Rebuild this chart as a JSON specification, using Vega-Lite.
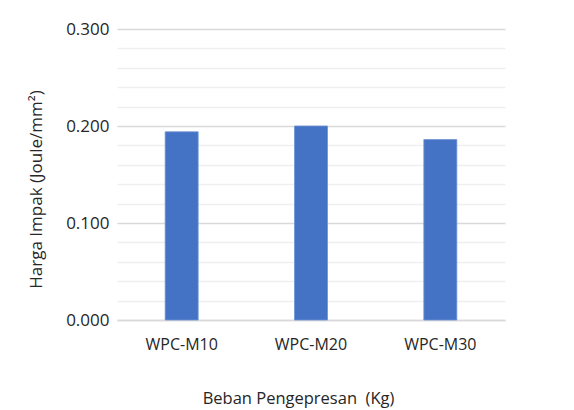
{
  "$schema": "https://vega.github.io/schema/vega-lite/v6.json",
  "autosize": "none",
  "width": 388,
  "height": 291,
  "padding": {"left": 117, "top": 29, "right": 69, "bottom": 90},
  "background": "white",
  "config": {
    "view": {"stroke": null},
    "font": "Open Sans"
  },
  "data": {
    "values": [
      {"sampel": "WPC-M10", "harga": 0.194},
      {"sampel": "WPC-M20", "harga": 0.200},
      {"sampel": "WPC-M30", "harga": 0.186}
    ]
  },
  "layer": [
    {
      "mark": {"type": "bar", "color": "#4472C4", "stroke": "#6f93d6", "strokeWidth": 0.8},
      "encoding": {
        "x": {
          "field": "sampel",
          "type": "nominal",
          "sort": null,
          "scale": {"paddingInner": 0.745, "paddingOuter": 0.3725},
          "axis": {
            "title": "Beban Pengepresan\u00a0\u00a0(Kg)",
            "titleFontSize": 16.5,
            "titleFontWeight": "normal",
            "titleColor": "#262626",
            "titlePadding": 38,
            "titleX": 181,
            "labelAngle": 0,
            "labelFontSize": 16,
            "labelColor": "#262626",
            "labelPadding": 16,
            "domain": true,
            "domainColor": "#d9d9d9",
            "domainWidth": 1.5,
            "ticks": false
          }
        },
        "y": {
          "field": "harga",
          "type": "quantitative",
          "scale": {"domain": [0, 0.3], "nice": false},
          "axis": {
            "title": "Harga Impak (Joule/mm²)",
            "titleFontSize": 17,
            "titleFontWeight": "normal",
            "titleColor": "#262626",
            "titlePadding": 20,
            "titleY": 160,
            "values": [0, 0.1, 0.2, 0.3],
            "format": ".3f",
            "labelFontSize": 17,
            "labelColor": "#262626",
            "labelPadding": 8,
            "domain": false,
            "ticks": false,
            "grid": true,
            "gridColor": "#d9d9d9",
            "gridWidth": 1.5,
            "zindex": 0
          }
        }
      }
    },
    {
      "mark": {"type": "rule", "opacity": 0},
      "encoding": {
        "y": {
          "field": "harga",
          "type": "quantitative",
          "axis": {
            "values": [0.02, 0.04, 0.06, 0.08, 0.12, 0.14, 0.16, 0.18, 0.22, 0.24, 0.26, 0.28],
            "labels": false,
            "title": null,
            "domain": false,
            "ticks": false,
            "grid": true,
            "gridColor": "#efefef",
            "gridWidth": 1.5,
            "zindex": 0
          }
        }
      }
    }
  ],
  "resolve": {"axis": {"y": "independent"}, "scale": {"y": "shared"}}
}
